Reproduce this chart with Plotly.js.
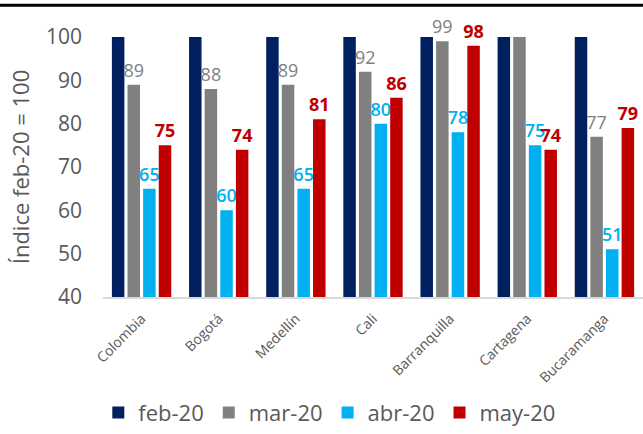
<!DOCTYPE html>
<html><head><meta charset="utf-8">
<script src="https://cdn.plot.ly/plotly-3.0.1.min.js"></script>
<style>html,body{margin:0;padding:0;background:#fff}#c{width:643px;height:434px}</style>
</head><body><div id="c"></div>
<script>
const cities = ["Colombia","Bogotá","Medellín","Cali","Barranquilla","Cartagena","Bucaramanga"];
const feb20 = [100,100,100,100,100,100,100];
const mar20 = [89,88,89,92,99,100.3,77];
const abr20 = [65,60,65,80,78,75,51];
const may20 = [75,74,81,86,98,74,79];
const marLabels = ["89","88","89","92","99","","77"];
const abrLabels = ["65","60","65","80","78","75","51"];
const mayLabels = ["75","74","81","86","98","74","79"];

const font = "Open Sans, Lato, sans-serif";
function tr(name, y, color, text, tcolor, bold){
  return {type:'bar', name:name, x:cities, y:y, marker:{color:color},
    text:text, textposition: text ? 'outside' : 'none', cliponaxis:false, constraintext:'none',
    texttemplate: text ? (bold ? '<b>%{text}</b>' : '%{text}') : undefined,
    textfont:{family:font, size:18, color:tcolor, weight: bold ? 700 : 600}, hoverinfo:'none'};
}
const data = [
  tr('feb-20', feb20, '#002060', null, null, false),
  tr('mar-20', mar20, '#808080', marLabels, '#808080', false),
  tr('abr-20', abr20, '#00B0F0', abrLabels, '#00B0F0', false),
  tr('may-20', may20, '#C00000', mayLabels, '#C00000', true)
];
data[1].textfont.weight = 400;
const layout = {
  width:643, height:434,
  margin:{l:103, r:0, t:37, b:134},
  paper_bgcolor:'#fff', plot_bgcolor:'#fff',
  barmode:'group', bargap:0.19, bargroupgap:0.2,
  showlegend:true,
  legend:{orientation:'h', x:0.42, xanchor:'center', y:-0.445, yanchor:'middle',
    font:{family:font, size:22, color:'#595959'}, itemwidth:30, traceorder:'normal'},
  xaxis:{tickangle:-45, tickfont:{family:font, size:14, color:'#595959'}, ticklabelstandoff:6,
    showline:true, linecolor:'#D9D9D9', linewidth:2, ticks:'', showgrid:false},
  yaxis:{range:[40,100], dtick:10, showgrid:false, zeroline:false, showline:false,
    tickfont:{family:font, size:21, color:'#595959'}, ticklabelstandoff:20,
    title:{text:'Índice feb-20 = 100', font:{family:font, size:22, color:'#595959'}, standoff:10}},
  shapes:[{type:'line', xref:'paper', yref:'paper', x0:-103/540, x1:1, y0:1.122, y1:1.122,
    line:{color:'#000', width:3}}]
};
Plotly.newPlot('c', data, layout, {displayModeBar:false, staticPlot:true});
</script></body></html>
